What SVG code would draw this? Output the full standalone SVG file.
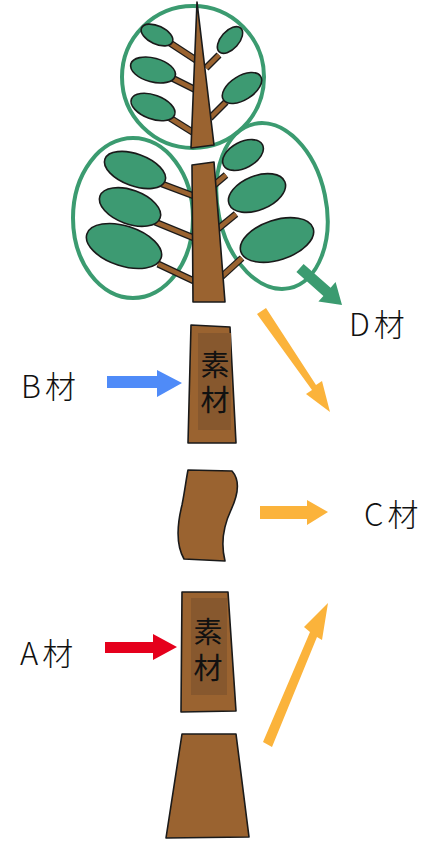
<svg xmlns="http://www.w3.org/2000/svg" width="436" height="842" viewBox="0 0 436 842">
  <defs>
    <style>
      .crown { fill: none; stroke: #3b9b70; stroke-width: 4; }
      .leaf { fill: #3d9a72; stroke: #1a1a1a; stroke-width: 1.6; }
      .branch { stroke: #1a1a1a; stroke-width: 7; stroke-linecap: butt; }
      .branch-in { stroke: #9a6330; stroke-width: 4.5; stroke-linecap: butt; }
      .wood { fill: #9a6330; stroke: #1a1a1a; stroke-width: 1.6; stroke-linejoin: round; }
      .core { fill: #87582e; }
      .label { font-family: "Noto Sans CJK JP", "Noto Sans", sans-serif; font-weight: 300; font-size: 31px; letter-spacing: 4px; fill: #111; }
      .mark { font-family: "Noto Sans CJK JP", sans-serif; font-weight: 400; font-size: 29px; fill: #111; writing-mode: vertical-rl; }
    </style>
  </defs>

  <!-- tree -->
  <g id="tree">
    <!-- crown outlines -->
    <circle class="crown" cx="193" cy="77" r="71"/>
    <ellipse class="crown" cx="133" cy="218" rx="60" ry="80"/>
    <ellipse class="crown" cx="272" cy="206" rx="54" ry="84" transform="rotate(-12 272 206)"/>

    <!-- upper branches -->
    <line class="branch" x1="170" y1="43" x2="196" y2="60"/>
    <line class="branch" x1="172" y1="78" x2="196" y2="90"/>
    <line class="branch" x1="170" y1="118" x2="194" y2="133"/>
    <line class="branch" x1="219" y1="55" x2="206" y2="68"/>
    <line class="branch" x1="226" y1="102" x2="210" y2="118"/>
    <line class="branch-in" x1="170" y1="43" x2="196" y2="60"/>
    <line class="branch-in" x1="172" y1="78" x2="196" y2="90"/>
    <line class="branch-in" x1="170" y1="118" x2="194" y2="133"/>
    <line class="branch-in" x1="219" y1="55" x2="206" y2="68"/>
    <line class="branch-in" x1="226" y1="102" x2="210" y2="118"/>

    <!-- lower branches -->
    <line class="branch" x1="162" y1="184" x2="194" y2="196"/>
    <line class="branch" x1="155" y1="222" x2="194" y2="238"/>
    <line class="branch" x1="158" y1="264" x2="194" y2="281"/>
    <line class="branch" x1="213" y1="186" x2="226" y2="175"/>
    <line class="branch" x1="214" y1="232" x2="236" y2="214"/>
    <line class="branch" x1="218" y1="280" x2="242" y2="258"/>
    <line class="branch-in" x1="162" y1="184" x2="194" y2="196"/>
    <line class="branch-in" x1="155" y1="222" x2="194" y2="238"/>
    <line class="branch-in" x1="158" y1="264" x2="194" y2="281"/>
    <line class="branch-in" x1="213" y1="186" x2="226" y2="175"/>
    <line class="branch-in" x1="214" y1="232" x2="236" y2="214"/>
    <line class="branch-in" x1="218" y1="280" x2="242" y2="258"/>

    <!-- upper leaves -->
    <ellipse class="leaf" cx="157" cy="35" rx="17" ry="9" transform="rotate(25 157 35)"/>
    <ellipse class="leaf" cx="153" cy="70" rx="23" ry="12" transform="rotate(15 153 70)"/>
    <ellipse class="leaf" cx="153" cy="107" rx="23" ry="12" transform="rotate(20 153 107)"/>
    <ellipse class="leaf" cx="230" cy="40" rx="16" ry="9" transform="rotate(-48 230 40)"/>
    <ellipse class="leaf" cx="242" cy="88" rx="22" ry="12" transform="rotate(-32 242 88)"/>

    <!-- lower leaves -->
    <ellipse class="leaf" cx="135" cy="170" rx="32" ry="16" transform="rotate(20 135 170)"/>
    <ellipse class="leaf" cx="130" cy="207" rx="32" ry="17" transform="rotate(20 130 207)"/>
    <ellipse class="leaf" cx="124" cy="246" rx="39" ry="20" transform="rotate(18 124 246)"/>
    <ellipse class="leaf" cx="243" cy="155" rx="22" ry="13" transform="rotate(-28 243 155)"/>
    <ellipse class="leaf" cx="257" cy="193" rx="30" ry="17" transform="rotate(-22 257 193)"/>
    <ellipse class="leaf" cx="277" cy="240" rx="38" ry="20" transform="rotate(-18 277 240)"/>

    <!-- trunk pieces -->
    <polygon class="wood" points="197,2 214,145 191,148"/>
    <polygon class="wood" points="192,165 214,162 225,302 193,302"/>
  </g>

  <!-- log pieces -->
  <g id="log-b">
    <polygon class="wood" points="191,325 230,327 236,443 188,443"/>
    <rect class="core" x="198" y="333" width="33" height="97"/>
    <text class="mark" x="215" y="350" letter-spacing="6">素材</text>
  </g>

  <g id="log-c">
    <path class="wood" d="M188,470 L232,471 C240,480 238,495 231,510 C223,527 221,545 225,561 L184,559 C176,545 177,525 182,505 C185,490 186,480 188,470 Z"/>
  </g>

  <g id="log-a">
    <polygon class="wood" points="182,592 228,592 236,711 181,712"/>
    <rect class="core" x="191" y="598" width="36" height="97"/>
    <text class="mark" x="208" y="617" letter-spacing="7">素材</text>
  </g>

  <g id="stump">
    <polygon class="wood" points="182,734 236,734 249,837 166,838"/>
  </g>

  <!-- labels -->
  <g id="label-d"><text class="label" x="349" y="336">D材</text></g>
  <g id="label-b"><text class="label" x="21" y="398">B材</text></g>
  <g id="label-c"><text class="label" x="364" y="526">C材</text></g>
  <g id="label-a"><text class="label" x="20" y="665">A材</text></g>

  <!-- connectors -->
  <g id="connectors">
    <!-- green: crown to D -->
    <polygon fill="#3b9b70" points="303.6,263.9 330.6,287.7 335.6,282.1 342,305 318.4,301.5 323.4,295.9 296.4,272.1"/>
    <!-- blue: B into log -->
    <polygon fill="#4f8bf8" points="107,376 157,376 157,370 182,383 157,397 157,388 107,388"/>
    <!-- red: A into log -->
    <polygon fill="#e5001c" points="105,642 153,642 153,634 177,647 153,660 153,653 105,653"/>
    <!-- orange: log to C -->
    <polygon fill="#fbb33b" points="260,506 307,506 307,500 328,512 307,525 307,519 260,519"/>
    <!-- orange: top to C -->
    <polygon fill="#fbb33b" points="257,314 266,308 316,385 322,381 330,412 306,394 312,390"/>
    <!-- orange: stump to C -->
    <polygon fill="#fbb33b" points="263,742 272,747 317,637 322,640 328,603 304,627 310,632"/>
  </g>
</svg>
